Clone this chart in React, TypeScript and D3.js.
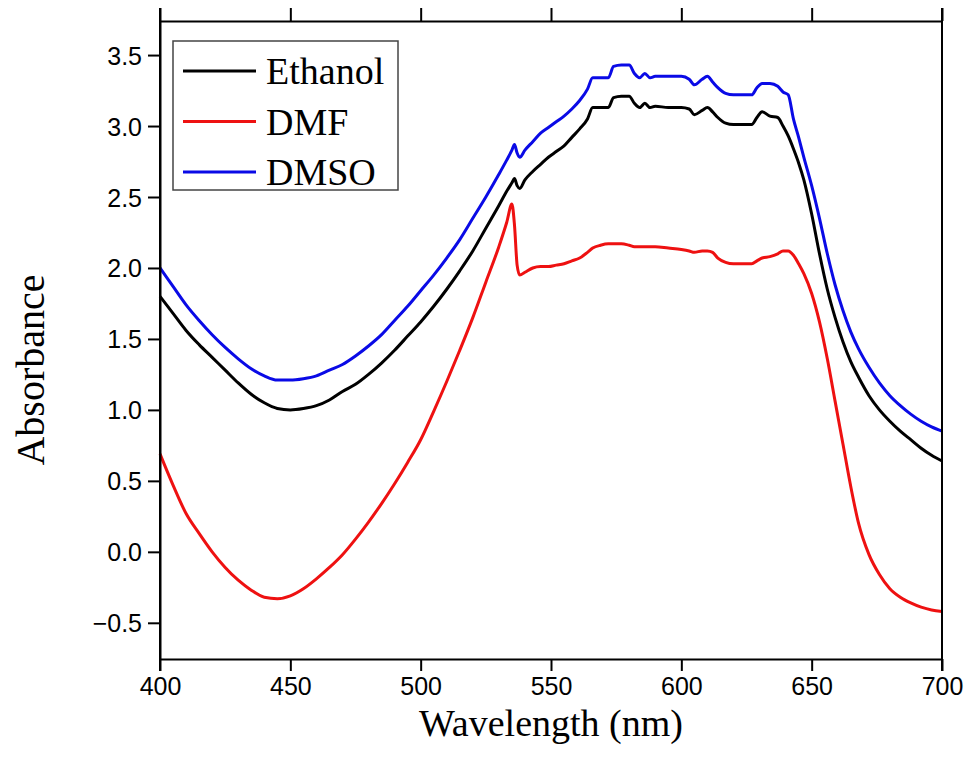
import { useEffect, useRef } from 'react';
import * as d3 from 'd3';

// wavelength grid (nm), shared by all three spectra
const wavelengths = [
  400, 405, 410, 415, 420, 425, 430, 435, 440, 445, 450, 455, 460, 465, 470, 475, 480, 485, 490, 495,
  500, 505, 510, 515, 520, 525, 530, 533, 535, 536, 537, 538, 540, 543, 546, 549, 552, 555, 558, 561,
  564, 566, 569, 572, 574, 577, 580, 582, 584, 586, 588, 590, 595, 600, 603, 605, 608, 610, 612, 614,
  617, 620, 625, 627, 629, 631, 634, 637, 639, 641, 643, 645, 647, 650, 653, 656, 659, 662, 665, 668,
  672, 676, 680, 684, 688, 692, 696, 700,
];

const ethanol = [
  1.80, 1.68, 1.56, 1.46, 1.37, 1.28, 1.19, 1.11, 1.05, 1.01, 1.00, 1.01, 1.03, 1.07, 1.13, 1.18, 1.25, 1.33, 1.42, 1.52,
  1.62, 1.73, 1.85, 1.98, 2.12, 2.28, 2.44, 2.54, 2.60, 2.63, 2.58, 2.56, 2.62, 2.68, 2.73, 2.78, 2.82, 2.86, 2.92, 2.98,
  3.05, 3.13, 3.13, 3.13, 3.20, 3.21, 3.21, 3.16, 3.13, 3.16, 3.13, 3.14, 3.13, 3.13, 3.12, 3.08, 3.11, 3.13, 3.10, 3.06,
  3.02, 3.01, 3.01, 3.01, 3.06, 3.10, 3.07, 3.06, 3.00, 2.93, 2.84, 2.74, 2.62, 2.38, 2.10, 1.85, 1.65, 1.48, 1.34, 1.23,
  1.10, 1.00, 0.92, 0.85, 0.79, 0.73, 0.68, 0.64,
];

const dmf = [
  0.69, 0.47, 0.27, 0.13, 0.00, -0.11, -0.20, -0.27, -0.32, -0.33, -0.31, -0.26, -0.19, -0.11, -0.02, 0.09, 0.21, 0.34, 0.48, 0.63,
  0.79, 0.99, 1.20, 1.42, 1.65, 1.90, 2.15, 2.32, 2.45, 2.30, 2.02, 1.95, 1.97, 2.00, 2.01, 2.01, 2.02, 2.03, 2.05, 2.07,
  2.11, 2.14, 2.16, 2.17, 2.17, 2.17, 2.16, 2.15, 2.15, 2.15, 2.15, 2.15, 2.14, 2.13, 2.12, 2.11, 2.12, 2.12, 2.11, 2.07,
  2.04, 2.03, 2.03, 2.03, 2.05, 2.07, 2.08, 2.10, 2.12, 2.12, 2.09, 2.03, 1.96, 1.82, 1.62, 1.36, 1.06, 0.76, 0.46, 0.20,
  -0.02, -0.16, -0.26, -0.32, -0.36, -0.39, -0.41, -0.42,
];

const dmso = [
  2.00, 1.87, 1.74, 1.63, 1.53, 1.44, 1.36, 1.29, 1.24, 1.21, 1.21, 1.22, 1.24, 1.28, 1.32, 1.38, 1.45, 1.53, 1.63, 1.73,
  1.84, 1.95, 2.07, 2.20, 2.35, 2.50, 2.66, 2.76, 2.83, 2.87, 2.81, 2.78, 2.83, 2.89, 2.95, 2.99, 3.03, 3.07, 3.12, 3.18,
  3.26, 3.34, 3.34, 3.34, 3.42, 3.43, 3.43, 3.37, 3.34, 3.37, 3.34, 3.35, 3.35, 3.35, 3.33, 3.29, 3.33, 3.35, 3.31, 3.27,
  3.23, 3.22, 3.22, 3.22, 3.27, 3.30, 3.30, 3.28, 3.24, 3.22, 3.05, 2.92, 2.78, 2.58, 2.35, 2.10, 1.88, 1.70, 1.55, 1.43,
  1.30, 1.19, 1.10, 1.03, 0.97, 0.92, 0.88, 0.85,
];

const seriesNames = ['Ethanol', 'DMF', 'DMSO'];
const seriesColors = ['#000000', '#ee1111', '#0a0ae6'];
const xTicks = [400, 450, 500, 550, 600, 650, 700];
const yTicks = [-0.5, 0.0, 0.5, 1.0, 1.5, 2.0, 2.5, 3.0, 3.5];

const App = () => {
  const svgRef = useRef(null);

  useEffect(() => {
    const svg = d3.select(svgRef.current);
    svg.selectAll('*').remove();

    const width = 978;
    const height = 768;
    const left = 160, right = 942, top = 21, bottom = 659;

    svg.attr('width', width).attr('height', height);

    const x = d3.scaleLinear().domain([400, 700]).range([left, right]);
    const y = d3.scaleLinear().domain([-0.755, 3.74]).range([bottom, top]);

    const allSeries = [ethanol, dmf, dmso];

    // curves
    const line = d3.line<number>()
      .x((d, i) => x(wavelengths[i]))
      .y(d => y(d))
      .curve(d3.curveMonotoneX);

    svg.append('g')
      .selectAll('path')
      .data(allSeries)
      .enter().append('path')
      .attr('d', d => line(d))
      .attr('fill', 'none')
      .attr('stroke', (d, i) => seriesColors[i])
      .attr('stroke-width', 3)
      .attr('stroke-linejoin', 'round');

    // axes
    const axisStyle = (g) => {
      g.select('.domain').attr('stroke', '#000').attr('stroke-width', 2);
      g.selectAll('.tick line').attr('stroke', '#000').attr('stroke-width', 2);
    };

    svg.append('g')
      .attr('transform', `translate(0,${bottom})`)
      .call(d3.axisBottom(x).tickValues(xTicks).tickSize(12).tickSizeOuter(0).tickFormat(d3.format('d')))
      .call(axisStyle)
      .call(g => g.selectAll('.tick text')
        .attr('y', 18)
        .attr('dy', '0.71em')
        .style('font-family', '"Liberation Sans", Arial, sans-serif')
        .style('font-size', '25px')
        .attr('fill', '#000'));

    svg.append('g')
      .attr('transform', `translate(0,${top})`)
      .call(d3.axisTop(x).tickValues(xTicks).tickSize(13).tickSizeOuter(0).tickFormat(() => ''))
      .call(axisStyle);

    svg.append('g')
      .attr('transform', `translate(${left},0)`)
      .call(d3.axisLeft(y).tickValues(yTicks).tickSize(12).tickSizeOuter(0).tickFormat(d3.format('.1f')))
      .call(axisStyle)
      .call(g => g.selectAll('.tick text')
        .attr('x', -18)
        .attr('dy', '0.36em')
        .style('font-family', '"Liberation Sans", Arial, sans-serif')
        .style('font-size', '25px')
        .attr('fill', '#000'));

    svg.append('line')
      .attr('x1', right).attr('x2', right)
      .attr('y1', top - 13).attr('y2', bottom + 12)
      .attr('stroke', '#000').attr('stroke-width', 2);
    svg.append('line')
      .attr('x1', left).attr('x2', left)
      .attr('y1', top - 13).attr('y2', bottom + 12)
      .attr('stroke', '#000').attr('stroke-width', 2);

    // axis titles
    svg.append('text')
      .attr('x', (left + right) / 2)
      .attr('y', 736)
      .attr('text-anchor', 'middle')
      .style('font-family', '"Liberation Serif", "Times New Roman", serif')
      .style('font-size', '38px')
      .text('Wavelength (nm)');

    svg.append('text')
      .attr('transform', `translate(44,${(top + bottom) / 2 + 30}) rotate(-90)`)
      .attr('text-anchor', 'middle')
      .style('font-family', '"Liberation Serif", "Times New Roman", serif')
      .style('font-size', '40px')
      .text('Absorbance');

    // legend
    const legend = svg.append('g');
    legend.append('rect')
      .attr('x', 173).attr('y', 41)
      .attr('width', 225).attr('height', 149)
      .attr('fill', '#fff')
      .attr('stroke', '#444')
      .attr('stroke-width', 1.5);

    const rows = legend.selectAll('g.row')
      .data(seriesNames)
      .enter().append('g')
      .attr('class', 'row')
      .attr('transform', (d, i) => `translate(0,${71 + i * 50.5})`);

    rows.append('line')
      .attr('x1', 183).attr('x2', 256)
      .attr('stroke', (d, i) => seriesColors[i])
      .attr('stroke-width', 3);

    rows.append('text')
      .attr('x', 266)
      .attr('dy', '0.35em')
      .style('font-family', '"Liberation Serif", "Times New Roman", serif')
      .style('font-size', '38px')
      .text(d => d);
  }, []);

  return (
    <div>
      <svg ref={svgRef} style={{ position: 'absolute', left: 0, top: 0, background: '#fff' }}></svg>
    </div>
  );
};

export default App;
